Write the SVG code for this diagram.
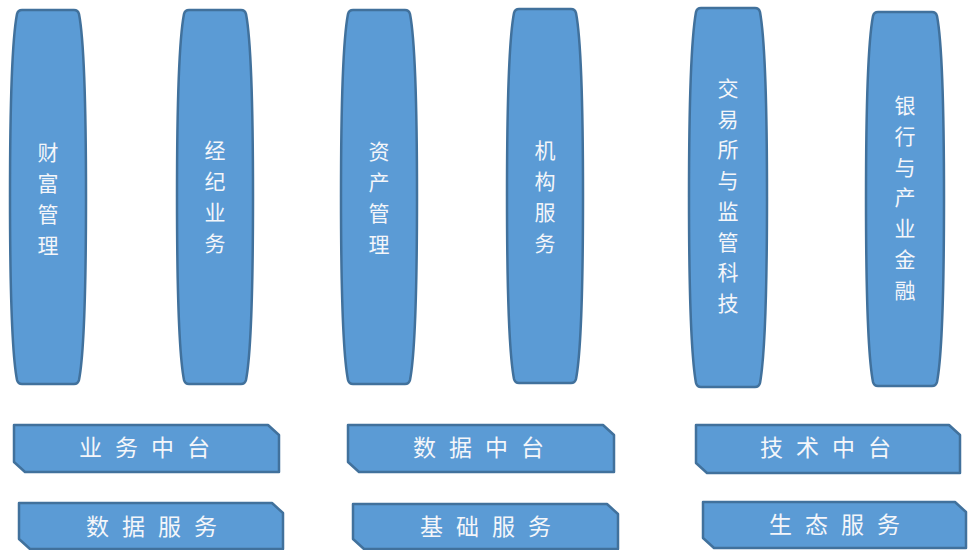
<svg xmlns="http://www.w3.org/2000/svg" width="970" height="550" viewBox="0 0 970 550">
  <style>
    .shape { fill: #5b9bd5; stroke: #41719c; stroke-width: 2.5; stroke-linejoin: round; }
    .lbl { fill: #f4f6fa; font-family: "Noto Sans CJK SC", "Noto Sans", sans-serif; font-size: 21px; }
    .plbl { fill: #f4f6fa; font-family: "Noto Sans CJK SC", "Noto Sans", sans-serif; font-size: 23px; letter-spacing: 13px; text-anchor: middle; }
    .vt { text-anchor: middle; }
  </style>
  <rect width="970" height="550" fill="#ffffff"/>

  <g id="pillar-wealth">
    <path class="shape" d="M 22,10 L 74,10 Q 78,10 79,14 C 84,40 86,100 86,197 C 86,294 84,354 79,380 Q 78,384 74,384 L 22,384 Q 18,384 17,380 C 12,354 10,294 10,197 C 10,100 12,40 17,14 Q 18,10 22,10 Z"/>
    <text class="lbl vt"><tspan x="48" y="160">财</tspan><tspan x="48" y="191">富</tspan><tspan x="48" y="222">管</tspan><tspan x="48" y="253">理</tspan></text>
  </g>

  <g id="pillar-brokerage">
    <path class="shape" d="M 189,10 L 241,10 Q 245,10 246,14 C 251,40 253,100 253,197 C 253,294 251,354 246,380 Q 245,384 241,384 L 189,384 Q 185,384 184,380 C 179,354 177,294 177,197 C 177,100 179,40 184,14 Q 185,10 189,10 Z"/>
    <text class="lbl vt"><tspan x="215" y="158">经</tspan><tspan x="215" y="189">纪</tspan><tspan x="215" y="220">业</tspan><tspan x="215" y="251">务</tspan></text>
  </g>

  <g id="pillar-asset">
    <path class="shape" d="M 353,10 L 405,10 Q 409,10 410,14 C 415,40 417,100 417,197 C 417,294 415,354 410,380 Q 409,384 405,384 L 353,384 Q 349,384 348,380 C 343,354 341,294 341,197 C 341,100 343,40 348,14 Q 349,10 353,10 Z"/>
    <text class="lbl vt"><tspan x="379" y="159">资</tspan><tspan x="379" y="190">产</tspan><tspan x="379" y="221">管</tspan><tspan x="379" y="252">理</tspan></text>
  </g>

  <g id="pillar-institution">
    <path class="shape" d="M 519,9 L 571,9 Q 575,9 576,13 C 581,39 583,99 583,196 C 583,293 581,353 576,379 Q 575,383 571,383 L 519,383 Q 515,383 514,379 C 509,353 507,293 507,196 C 507,99 509,39 514,13 Q 515,9 519,9 Z"/>
    <text class="lbl vt"><tspan x="545" y="158">机</tspan><tspan x="545" y="189">构</tspan><tspan x="545" y="220">服</tspan><tspan x="545" y="251">务</tspan></text>
  </g>

  <g id="pillar-exchange">
    <path class="shape" d="M 701,8 L 755,8 Q 759,8 760,12 C 765,40 767,100 767,197 C 767,294 765,355 760,383 Q 759,387 755,387 L 701,387 Q 697,387 696,383 C 691,355 689,294 689,197 C 689,100 691,40 696,12 Q 697,8 701,8 Z"/>
    <text class="lbl vt"><tspan x="728" y="96">交</tspan><tspan x="728" y="127">易</tspan><tspan x="728" y="157">所</tspan><tspan x="728" y="188">与</tspan><tspan x="728" y="219">监</tspan><tspan x="728" y="250">管</tspan><tspan x="728" y="280">科</tspan><tspan x="728" y="311">技</tspan></text>
  </g>

  <g id="pillar-bank">
    <path class="shape" d="M 878,12 L 932,12 Q 936,12 937,16 C 942,42 944,102 944,199 C 944,296 942,356 937,382 Q 936,386 932,386 L 878,386 Q 874,386 873,382 C 868,356 866,296 866,199 C 866,102 868,42 873,16 Q 874,12 878,12 Z"/>
    <text class="lbl vt"><tspan x="905" y="113">银</tspan><tspan x="905" y="144">行</tspan><tspan x="905" y="175">与</tspan><tspan x="905" y="205">产</tspan><tspan x="905" y="236">业</tspan><tspan x="905" y="267">金</tspan><tspan x="905" y="298">融</tspan></text>
  </g>

  <g id="plate-business-platform">
    <path class="shape" d="M 14,425 L 268,425 L 279,435 L 279,472 L 25,472 L 14,462 Z"/>
    <text class="plbl" x="151" y="456">业务中台</text>
  </g>
  <g id="plate-data-platform">
    <path class="shape" d="M 348,425 L 603,425 L 614,435 L 614,472 L 359,472 L 348,462 Z"/>
    <text class="plbl" x="485" y="456">数据中台</text>
  </g>
  <g id="plate-tech-platform">
    <path class="shape" d="M 696,425 L 949,425 L 960,435 L 960,473 L 707,473 L 696,463 Z"/>
    <text class="plbl" x="832" y="456">技术中台</text>
  </g>
  <g id="plate-data-service">
    <path class="shape" d="M 19,503 L 272,503 L 283,513 L 283,549 L 30,549 L 19,539 Z"/>
    <text class="plbl" x="158" y="535">数据服务</text>
  </g>
  <g id="plate-base-service">
    <path class="shape" d="M 353,504 L 607,504 L 618,514 L 618,549 L 364,549 L 353,539 Z"/>
    <text class="plbl" x="492" y="535">基础服务</text>
  </g>
  <g id="plate-eco-service">
    <path class="shape" d="M 703,502 L 955,502 L 966,512 L 966,548 L 714,548 L 703,538 Z"/>
    <text class="plbl" x="841" y="533">生态服务</text>
  </g>

  <g id="connectors"></g>
</svg>
